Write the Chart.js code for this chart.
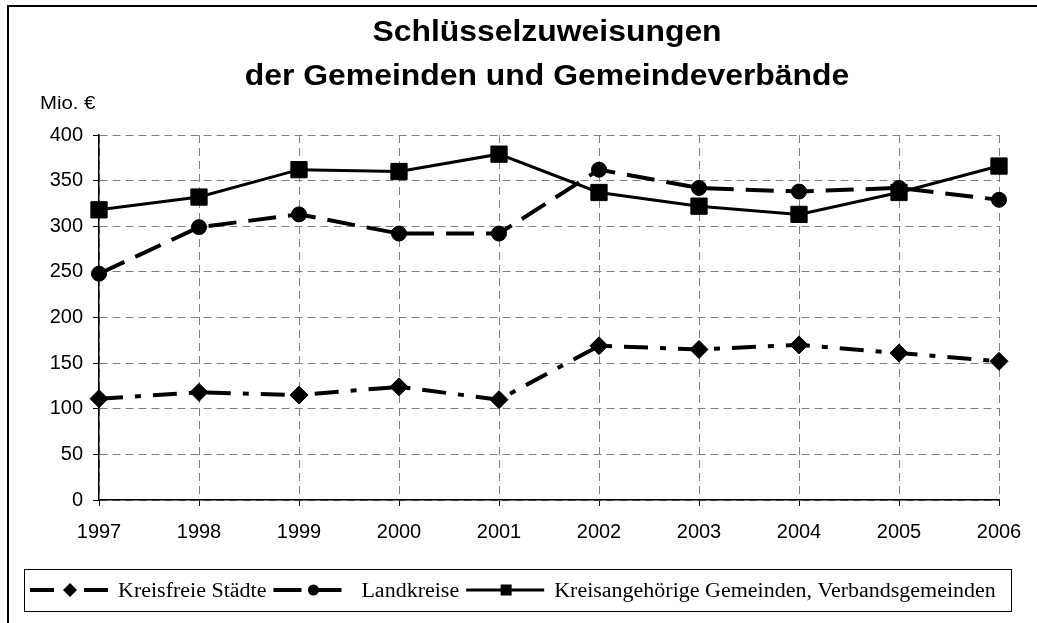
<!DOCTYPE html>
<html>
<head>
<meta charset="utf-8">
<script src="https://cdn.jsdelivr.net/npm/chart.js@4/dist/chart.umd.min.js"></script>
<style>
  html, body { margin: 0; padding: 0; background: #fff; }
  #wrap { width: 1037px; height: 623px; position: relative; }
</style>
</head>
<body>
<div id="wrap"><canvas id="chart" width="1037" height="623"></canvas></div>
<script>
// Data
const years = ["1997", "1998", "1999", "2000", "2001", "2002", "2003", "2004", "2005", "2006"];
const kreisfreieStaedte = [111, 118, 115, 124, 110, 169, 165, 170, 161, 152];
const landkreise = [248, 299, 313, 292, 292, 362, 342, 338, 342, 329];
const kreisangehoerige = [318, 332, 362, 360, 379, 337, 322, 313, 337, 366];
const seriesNames = ["Kreisfreie Städte", "Landkreise", "Kreisangehörige Gemeinden, Verbandsgemeinden"];
const titleLines = ["Schlüsselzuweisungen", "der Gemeinden und Gemeindeverbände"];
const unitLabel = "Mio. €";

const SANS = "'Liberation Sans', Arial, sans-serif";
const SERIF = "'Liberation Serif', 'Times New Roman', serif";
const STRETCH = 1.13;

// draw text a bit wider than the font, like the source picture
function wideText(ctx, text, x, y, font, align, sx) {
    ctx.save();
    ctx.font = font;
    ctx.fillStyle = "#000";
    ctx.textBaseline = "alphabetic";
    const w = ctx.measureText(text).width * sx;
    let left = x;
    if (align === "center") left = x - w / 2;
    ctx.translate(left, y);
    ctx.scale(sx, 1);
    ctx.fillText(text, 0, 0);
    ctx.restore();
    return w;
}

function drawMarker(ctx, style, x, y, r) {
    ctx.beginPath();
    if (style === "rectRot") {
        ctx.moveTo(x, y - r);
        ctx.lineTo(x + r, y);
        ctx.lineTo(x, y + r);
        ctx.lineTo(x - r, y);
        ctx.closePath();
    } else if (style === "circle") {
        ctx.arc(x, y, r, 0, Math.PI * 2);
    } else {
        ctx.rect(x - r, y - r, r * 2, r * 2);
    }
    ctx.fillStyle = "#000";
    ctx.fill();
}

const decorations = {
    id: "decorations",
    beforeDraw(chart) {
        const ctx = chart.ctx;
        ctx.save();
        ctx.fillStyle = "#fff";
        ctx.fillRect(0, 0, chart.width, chart.height);
        // outer frame (only left and top are visible)
        ctx.strokeStyle = "#000";
        ctx.lineWidth = 2;
        ctx.beginPath();
        ctx.moveTo(8, chart.height);
        ctx.lineTo(8, 6);
        ctx.lineTo(chart.width, 6);
        ctx.stroke();
        ctx.restore();
    },
    afterDraw(chart) {
        const ctx = chart.ctx;
        // title
        wideText(ctx, titleLines[0], 547, 41, "bold 29px " + SANS, "center", 1.1);
        wideText(ctx, titleLines[1], 547, 85, "bold 29px " + SANS, "center", 1.1);
        // unit
        wideText(ctx, unitLabel, 40, 109, "18px " + SANS, "left", STRETCH);

        // legend
        ctx.save();
        ctx.strokeStyle = "#000";
        ctx.lineWidth = 1;
        ctx.strokeRect(24.5, 569.5, 987, 42);
        ctx.restore();
        const markerSize = { rectRot: 7, circle: 5.5, rect: 5.5 };
        let x = 30;
        const y = 590;
        chart.data.datasets.forEach(ds => {
            ctx.save();
            ctx.strokeStyle = "#000";
            ctx.lineWidth = ds.borderWidth;
            ctx.setLineDash(ds.borderDash || []);
            ctx.beginPath();
            ctx.moveTo(x, y);
            ctx.lineTo(x + 78, y);
            ctx.stroke();
            ctx.setLineDash([]);
            drawMarker(ctx, ds.pointStyle, x + 40, y, markerSize[ds.pointStyle]);
            ctx.restore();
            const w = wideText(ctx, ds.label, x + 88, y + 7, "20px " + SERIF, "left", 1.1);
            x = x + 88 + w + 7;
        });
    }
};

const datasets = [
    {
        label: seriesNames[0],
        data: kreisfreieStaedte,
        borderColor: "#000",
        borderWidth: 4,
        borderDash: [24, 12, 6, 12],
        pointStyle: "rectRot",
        pointRadius: 9,
        pointBackgroundColor: "#000",
        pointBorderColor: "#000",
        pointBorderWidth: 1
    },
    {
        label: seriesNames[1],
        data: landkreise,
        borderColor: "#000",
        borderWidth: 4,
        borderDash: [28, 12],
        pointStyle: "circle",
        pointRadius: 7.5,
        pointBackgroundColor: "#000",
        pointBorderColor: "#000",
        pointBorderWidth: 1
    },
    {
        label: seriesNames[2],
        data: kreisangehoerige,
        borderColor: "#000",
        borderWidth: 3,
        borderDash: [],
        pointStyle: "rect",
        pointRadius: 11.5,
        pointBackgroundColor: "#000",
        pointBorderColor: "#000",
        pointBorderWidth: 1
    }
];

const chart = new Chart(document.getElementById("chart").getContext("2d"), {
    type: "line",
    data: { labels: years, datasets: datasets },
    options: {
        responsive: false,
        animation: false,
        devicePixelRatio: 1,
        layout: { padding: { left: 0, right: 38, top: 135, bottom: 0 } },
        elements: { line: { tension: 0, fill: false } },
        plugins: {
            legend: { display: false },
            title: { display: false },
            tooltip: { enabled: false }
        },
        scales: {
            x: {
                offset: false,
                afterFit(scale) { scale.height = 123; },
                grid: { color: "#808080", lineWidth: 1, tickLength: 6, tickColor: "#000", tickWidth: 1 },
                border: { display: true, color: "#000", width: 1.5, dash: [8, 5] },
                ticks: { color: "#000", padding: 14, maxRotation: 0, autoSkip: false, font: { family: SANS, size: 20 } }
            },
            y: {
                min: 0,
                max: 400,
                afterFit(scale) { scale.width = 99; },
                grid: { color: "#808080", lineWidth: 1, tickLength: 6, tickColor: "#000", tickWidth: 1 },
                border: { display: true, color: "#000", width: 1.5, dash: [8, 5] },
                ticks: { stepSize: 50, color: "#000", padding: 10, font: { family: SANS, size: 20 } }
            }
        }
    },
    plugins: [decorations]
});
</script>
</body>
</html>
